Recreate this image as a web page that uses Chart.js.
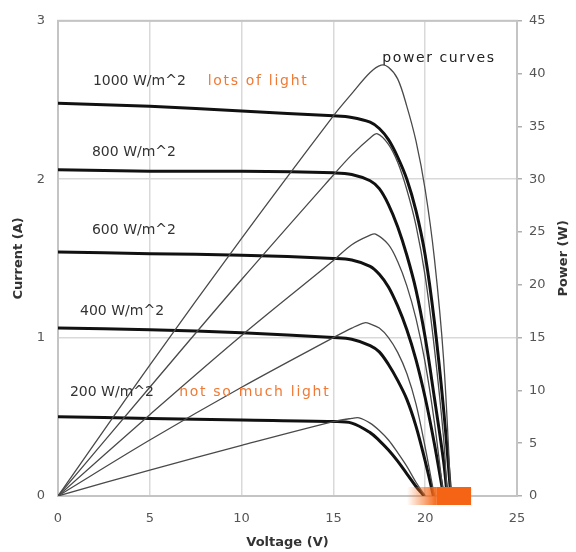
<!DOCTYPE html>
<html>
<head>
<meta charset="utf-8">
<script src="https://cdn.jsdelivr.net/npm/chart.js@4/dist/chart.umd.min.js"></script>
<style>
html,body{margin:0;padding:0;background:#fff;}
#wrap{width:576px;height:552px;position:relative;}
</style>
</head>
<body>
<div id="wrap"><canvas id="c" width="576" height="552"></canvas></div>
<script>
// ---- Data ----
const xTicks = [0, 5, 10, 15, 20, 25];
const currentTicks = [0, 1, 2, 3];
const powerTicks = [0, 5, 10, 15, 20, 25, 30, 35, 40, 45];
const irradianceLabels = ['1000 W/m^2', '800 W/m^2', '600 W/m^2', '400 W/m^2', '200 W/m^2'];

// I-V curves (voltage V, current A)
const vI1000 = [0, 5, 10, 15, 16, 17, 17.5, 18, 18.5, 19, 19.5, 20, 20.5, 21, 21.4];
const i1000  = [2.48, 2.46, 2.43, 2.40, 2.39, 2.36, 2.32, 2.25, 2.14, 2.00, 1.80, 1.52, 1.10, 0.55, 0];
const vI800  = [0, 5, 10, 15, 16, 17, 17.5, 18, 18.5, 19, 19.5, 20, 20.5, 21, 21.2];
const i800   = [2.06, 2.05, 2.05, 2.04, 2.03, 1.99, 1.94, 1.84, 1.70, 1.52, 1.30, 1.00, 0.62, 0.22, 0];
const vI600  = [0, 5, 10, 15, 16, 17, 17.5, 18, 18.5, 19, 19.5, 20, 20.5, 21];
const i600   = [1.54, 1.53, 1.52, 1.50, 1.49, 1.45, 1.40, 1.32, 1.20, 1.05, 0.86, 0.62, 0.33, 0];
const vI400  = [0, 5, 10, 15, 16, 17, 17.5, 18, 18.5, 19, 19.5, 20, 20.45];
const i400   = [1.06, 1.05, 1.03, 1.00, 0.99, 0.95, 0.91, 0.83, 0.73, 0.61, 0.44, 0.22, 0];
const vI200  = [0, 5, 10, 15, 16, 17, 17.5, 18, 18.5, 19, 19.5, 19.95];
const i200   = [0.50, 0.49, 0.48, 0.47, 0.46, 0.40, 0.35, 0.29, 0.22, 0.14, 0.06, 0];

// Power curves (voltage V, power W)
const vP1000 = [0, 5, 10, 15, 16, 17, 17.6, 18, 18.5, 19, 19.5, 20, 20.5, 21, 21.4];
const p1000  = [0, 12.4, 24.4, 36.0, 38.1, 40.1, 40.8, 40.6, 39.5, 36.9, 33.6, 29.0, 22.5, 13.0, 0];
const vP800  = [0, 5, 10, 15, 16, 17, 17.4, 18, 18.5, 19, 19.5, 20, 20.5, 21, 21.2];
const p800   = [0, 10.3, 20.5, 30.4, 32.3, 33.9, 34.3, 33.3, 31.6, 29.0, 25.6, 20.8, 14.0, 5.5, 0];
const vP600  = [0, 5, 10, 15, 16, 17, 17.3, 18, 18.5, 19, 19.5, 20, 20.5, 21];
const p600   = [0, 7.7, 15.2, 22.3, 23.8, 24.7, 24.8, 23.8, 22.2, 19.9, 16.8, 12.6, 7.0, 0];
const vP400  = [0, 5, 10, 15, 16, 16.7, 17, 17.5, 18, 18.5, 19, 19.5, 20, 20.5];
const p400   = [0, 5.3, 10.3, 15.0, 15.9, 16.4, 16.3, 15.9, 15.0, 13.6, 11.6, 8.7, 4.6, 0];
const vP200  = [0, 5, 10, 15, 16, 16.4, 17, 17.5, 18, 18.5, 19, 19.5, 20];
const p200   = [0, 2.45, 4.8, 7.05, 7.35, 7.4, 6.9, 6.2, 5.3, 4.1, 2.8, 1.3, 0];

// ---- Build datasets ----
const pts = (xs, ys) => xs.map((x, k) => ({x: x, y: ys[k]}));
const ivSets = [[vI1000, i1000], [vI800, i800], [vI600, i600], [vI400, i400], [vI200, i200]];
const pvSets = [[vP1000, p1000], [vP800, p800], [vP600, p600], [vP400, p400], [vP200, p200]];

const datasets = [];
pvSets.forEach((s, k) => datasets.push({
  label: 'P ' + irradianceLabels[k], data: pts(s[0], s[1]), yAxisID: 'y2',
  borderColor: '#4a4a4a', borderWidth: 1.3, pointRadius: 0, fill: false,
  tension: 0.35
}));
ivSets.forEach((s, k) => datasets.push({
  label: 'I ' + irradianceLabels[k], data: pts(s[0], s[1]), yAxisID: 'y',
  borderColor: '#111', borderWidth: 3, pointRadius: 0, fill: false,
  tension: 0.35
}));

const FONT = '"DejaVu Sans", "Liberation Sans", sans-serif';
const ORANGE = '#f07a35';

const annotations = [
  {text: irradianceLabels[0], x: 1.9,  y: 2.62,  color: '#333', spacing: 0},
  {text: 'lots of light',     x: 8.15, y: 2.62,  color: ORANGE, spacing: 1.7},
  {text: irradianceLabels[1], x: 1.85, y: 2.17,  color: '#333', spacing: 0},
  {text: irradianceLabels[2], x: 1.85, y: 1.675, color: '#333', spacing: 0},
  {text: irradianceLabels[3], x: 1.2,  y: 1.167, color: '#333', spacing: 0},
  {text: irradianceLabels[4], x: 0.65, y: 0.655, color: '#333', spacing: 0},
  {text: 'not so much light', x: 6.6,  y: 0.655, color: ORANGE, spacing: 1.7},
  {text: 'power curves',      x: 17.66, y: 2.765, color: '#222', spacing: 1.6}
];

const decor = {
  id: 'decor',
  beforeDatasetsDraw(chart) {
    const {ctx, chartArea: a} = chart;
    ctx.save();
    ctx.strokeStyle = '#c4c4c4';
    ctx.lineWidth = 2;
    ctx.strokeRect(a.left, a.top, a.right - a.left, a.bottom - a.top);
    ctx.restore();
  },
  afterDatasetsDraw(chart) {
    const {ctx, scales} = chart;
    const xs = scales.x, ys = scales.y;
    ctx.save();
    // orange open-circuit highlight
    const y0 = ys.getPixelForValue(0);
    const xa = xs.getPixelForValue(19.0), xb = xs.getPixelForValue(20.6), xc = xs.getPixelForValue(22.5);
    const g = ctx.createLinearGradient(xa, 0, xb, 0);
    g.addColorStop(0, 'rgba(245,110,30,0)');
    g.addColorStop(1, 'rgba(245,100,20,0.95)');
    ctx.fillStyle = g;
    ctx.fillRect(xa, y0 - 9, xb - xa, 18);
    ctx.fillStyle = '#f56414';
    ctx.fillRect(xb, y0 - 9, xc - xb, 18);
    // text labels
    ctx.font = '14px ' + FONT;
    ctx.textBaseline = 'middle';
    ctx.textAlign = 'left';
    annotations.forEach(t => {
      ctx.fillStyle = t.color;
      ctx.letterSpacing = t.spacing + 'px';
      ctx.fillText(t.text, xs.getPixelForValue(t.x), ys.getPixelForValue(t.y));
    });
    ctx.letterSpacing = '0px';
    // right axis title, reading bottom-to-top
    const y2 = scales.y2;
    ctx.translate(564, (y2.top + y2.bottom) / 2);
    ctx.rotate(-Math.PI / 2);
    ctx.textAlign = 'center';
    ctx.fillStyle = '#333';
    ctx.font = 'bold 13px ' + FONT;
    ctx.fillText('Power (W)', 0, 0);
    ctx.restore();
  }
};

new Chart(document.getElementById('c'), {
  type: 'line',
  data: {datasets: datasets},
  plugins: [decor],
  options: {
    responsive: false,
    animation: false,
    devicePixelRatio: 1,
    layout: {padding: {top: 15, left: 0, right: 0, bottom: 0}},
    plugins: {legend: {display: false}, tooltip: {enabled: false}},
    scales: {
      x: {
        type: 'linear', min: 0, max: 25,
        afterBuildTicks: s => { s.ticks = xTicks.map(v => ({value: v})); },
        afterFit: s => { s.height = 56; },
        grid: {color: '#d9d9d9', lineWidth: 1.5, drawTicks: false},
        border: {display: false},
        ticks: {padding: 15, color: '#555', font: {family: FONT, size: 13}},
        title: {display: true, text: 'Voltage (V)', color: '#333', font: {family: FONT, size: 13, weight: 'bold'}, padding: {top: 2, bottom: 2}}
      },
      y: {
        type: 'linear', position: 'left', min: 0, max: 3,
        afterBuildTicks: s => { s.ticks = currentTicks.map(v => ({value: v})); },
        afterFit: s => { s.width = 58; },
        grid: {color: '#d9d9d9', lineWidth: 1.5, drawTicks: false},
        border: {display: false},
        ticks: {padding: 13, color: '#555', font: {family: FONT, size: 13}},
        title: {display: true, text: 'Current (A)', color: '#333', font: {family: FONT, size: 13, weight: 'bold'}, padding: {top: 11, bottom: 0}}
      },
      y2: {
        type: 'linear', position: 'right', min: 0, max: 45,
        afterBuildTicks: s => { s.ticks = powerTicks.map(v => ({value: v})); },
        afterFit: s => { s.width = 59; },
        grid: {drawOnChartArea: false, drawTicks: true, tickLength: 5, color: '#b0b0b0', lineWidth: 1.5},
        border: {display: false},
        ticks: {padding: 7, color: '#555', font: {family: FONT, size: 13}},
        title: {display: false}
      }
    }
  }
});
</script>
</body>
</html>
